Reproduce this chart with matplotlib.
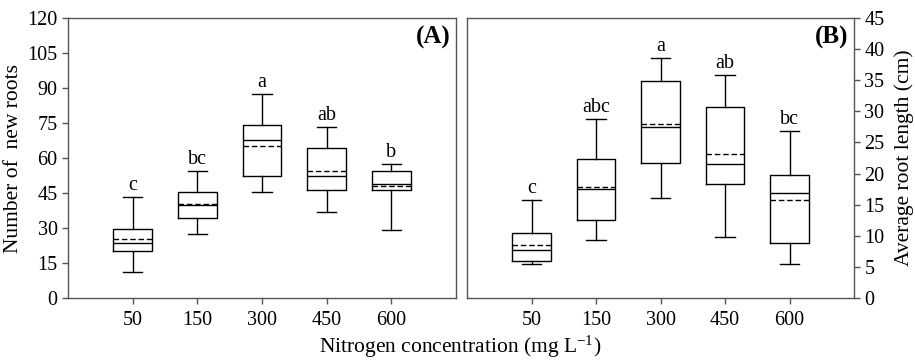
import matplotlib
matplotlib.use("Agg")
import matplotlib.pyplot as plt

plt.rcParams['font.family'] = ['Liberation Serif', 'DejaVu Serif']
plt.rcParams['mathtext.fontset'] = 'custom'
plt.rcParams['mathtext.rm'] = 'Liberation Serif'
plt.rcParams['mathtext.it'] = 'Liberation Serif:italic'

categories = ['50', '150', '300', '450', '600']

# Panel A: Number of new roots
a_whislo = [11.0, 27.6, 45.4, 36.7, 29.1]
a_q1     = [20.1, 34.1, 52.1, 46.1, 46.1]
a_med    = [23.6, 40.0, 67.9, 52.4, 49.0]
a_mean   = [25.3, 40.4, 65.3, 54.4, 47.9]
a_q3     = [29.4, 45.6, 74.3, 64.4, 54.6]
a_whishi = [43.3, 54.4, 87.6, 73.4, 57.6]
a_letters = ['c', 'bc', 'a', 'ab', 'b']

# Panel B: Average root length (cm)
b_whislo = [5.4, 9.3, 16.1, 9.8, 5.5]
b_q1     = [5.9, 12.6, 21.75, 18.3, 8.9]
b_med    = [7.66, 17.5, 27.5, 21.6, 16.9]
b_mean   = [8.46, 17.9, 27.9, 23.1, 15.8]
b_q3     = [10.5, 22.3, 34.8, 30.7, 19.8]
b_whishi = [15.7, 28.7, 38.6, 35.8, 26.8]
b_letters = ['c', 'abc', 'a', 'ab', 'bc']

fig = plt.figure(figsize=(9.15, 3.6), dpi=100)
axA = fig.add_axes([0.0743, 0.172, 0.424, 0.778])
axB = fig.add_axes([0.5104, 0.172, 0.423, 0.778])

def draw(ax, lo, q1, med, mean, q3, hi, letters, ymax, step, tag):
    stats = []
    for i in range(len(categories)):
        stats.append(dict(whislo=lo[i], q1=q1[i], med=med[i], mean=mean[i],
                          q3=q3[i], whishi=hi[i], fliers=[], label=categories[i]))
    pos = list(range(1, len(categories) + 1))
    ax.bxp(stats, positions=pos, widths=0.6, showmeans=True, meanline=True,
           showfliers=False,
           boxprops=dict(color='black', linewidth=1.0),
           whiskerprops=dict(color='black', linewidth=1.0),
           capprops=dict(color='black', linewidth=1.0),
           medianprops=dict(color='black', linewidth=1.0),
           meanprops=dict(color='black', linewidth=1.0, linestyle=(0, (4, 2))))
    ax.set_xlim(0, 6)
    ax.set_ylim(0, ymax)
    ax.set_yticks([i * step for i in range(int(ymax / step) + 1)])
    ax.set_xticks(pos)
    ax.set_xticklabels(categories)
    for i, t in enumerate(letters):
        ax.annotate(t, (pos[i], hi[i]), xytext=(0, 1.5), textcoords='offset points',
                    ha='center', va='bottom', fontsize=14.5)
    for s in ax.spines.values():
        s.set_color('#555555')
        s.set_linewidth(1.0)
    ax.tick_params(direction='out', length=4, width=1, color='#555555',
                   labelsize=14.5, bottom=True, top=False)
    ax.tick_params(axis='x', pad=5)
    ax.text(0.985, 0.973, tag, transform=ax.transAxes, ha='right', va='top',
            fontsize=18, fontweight='bold')

draw(axA, a_whislo, a_q1, a_med, a_mean, a_q3, a_whishi, a_letters, 120, 15, '(A)')
draw(axB, b_whislo, b_q1, b_med, b_mean, b_q3, b_whishi, b_letters, 45, 5, '(B)')

axA.set_ylabel('Number of  new roots', fontsize=15.5, labelpad=3)
axB.yaxis.tick_right()
axB.yaxis.set_label_position('right')
axB.tick_params(axis='y', left=False, right=True)
axB.set_ylabel('Average root length (cm)', fontsize=15.5, labelpad=7)

fig.text(0.503, 0.035, r'Nitrogen concentration (mg L$^{\mathregular{-1}}$)',
         ha='center', va='center', fontsize=15.5)

fig.savefig('out.png', dpi=100)
